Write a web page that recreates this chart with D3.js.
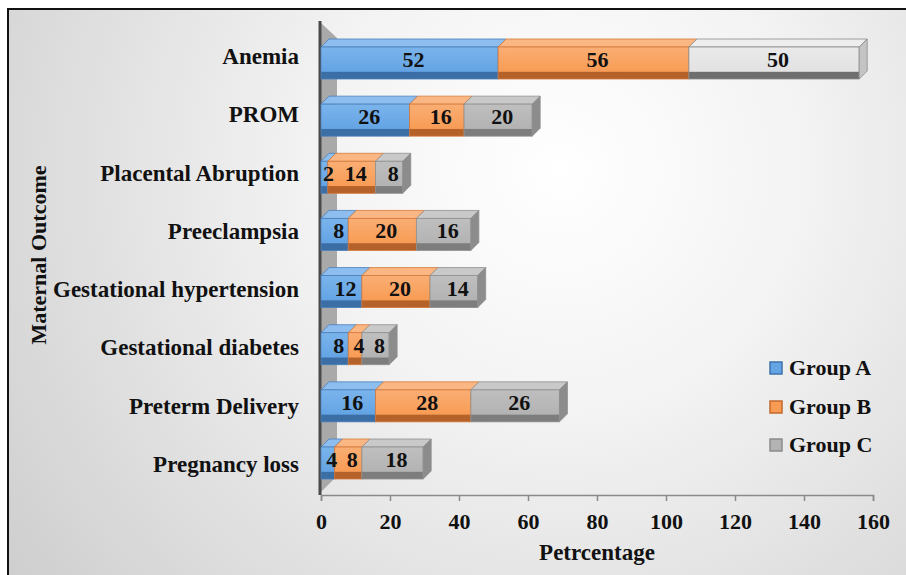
<!DOCTYPE html>
<html>
<head>
<meta charset="utf-8">
<script src="https://cdn.jsdelivr.net/npm/d3@7"></script>
<style>
  html, body { margin: 0; padding: 0; background: #ffffff; }
  svg { display: block; }
  svg text { font-family: "Liberation Serif", "Times New Roman", serif; }
</style>
</head>
<body>
<svg id="chart" width="906" height="575"></svg>
<script>
// Maternal outcome categories, top to bottom
const categories = [
  "Anemia", "PROM", "Placental Abruption", "Preeclampsia",
  "Gestational hypertension", "Gestational diabetes",
  "Preterm Delivery", "Pregnancy loss"
];
const seriesNames = ["Group A", "Group B", "Group C"];
const groupA = [52, 26, 2, 8, 12, 8, 16, 4];
const groupB = [56, 16, 14, 20, 20, 4, 28, 8];
const groupC = [50, 20, 8, 16, 14, 8, 26, 18];
const xTicks = [0, 20, 40, 60, 80, 100, 120, 140, 160];

const svg = d3.select("#chart");
const W = 906, H = 575;

// colour sets: face = front, top = top face, side = right face, dark = lower bevel
const palette = [
  { face: "#64a4e4", light: "#7ab4ec", top: "#8dbeef", side: "#3f73ad", dark: "#3c6ea6", line: "#4a7fba" },
  { face: "#f89c55", light: "#faae74", top: "#fbb783", side: "#c0682c", dark: "#b5612a", line: "#d4783a" },
  { face: "#b3b3b3", light: "#bfbfbf", top: "#c9c9c9", side: "#8c8c8c", dark: "#7d7d7d", line: "#8f8f8f" }
];
// the Anemia bar of Group C is formatted in a lighter grey
const paletteCLight = { face: "#e2e2e2", light: "#eaeaea", top: "#eeeeee", side: "#c4c4c4", dark: "#6e6e6e", line: "#8a8a8a" };

const defs = svg.append("defs");
const bg = defs.append("radialGradient").attr("id", "bg")
  .attr("gradientUnits", "userSpaceOnUse")
  .attr("cx", 560).attr("cy", 170).attr("r", 700);
bg.append("stop").attr("offset", 0).attr("stop-color", "#ffffff");
bg.append("stop").attr("offset", 0.35).attr("stop-color", "#f3f3f3");
bg.append("stop").attr("offset", 1).attr("stop-color", "#cdcdcd");

function faceGradient(id, p) {
  const g = defs.append("linearGradient").attr("id", id)
    .attr("x1", 0).attr("y1", 0).attr("x2", 0).attr("y2", 1);
  g.append("stop").attr("offset", 0).attr("stop-color", p.light);
  g.append("stop").attr("offset", 0.76).attr("stop-color", p.face);
  g.append("stop").attr("offset", 0.79).attr("stop-color", p.dark);
  g.append("stop").attr("offset", 1).attr("stop-color", p.dark);
}
palette.forEach((p, i) => faceGradient("face" + i, p));
faceGradient("faceCLight", paletteCLight);

function label(sel, size) {
  return sel.attr("font-weight", "bold").attr("font-size", size).attr("fill", "#111");
}

// chart area
svg.append("rect").attr("x", 8).attr("y", 9).attr("width", W).attr("height", H)
  .attr("fill", "url(#bg)").attr("stroke", "#111").attr("stroke-width", 2);

// axis scale on the floor edge; bars sit on the slightly recessed front plane
const x = d3.scaleLinear().domain([0, 160]).range([321, 873]);
const xBar = d3.scaleLinear().domain([0, 160]).range([321, 866]);
const yFront = d3.scalePoint().domain(categories).range([47, 447]);
const yLabel = d3.scalePoint().domain(categories).range([57, 465]);
const barH = 32, dx = 8, dy = 8;

// side wall
svg.append("polygon")
  .attr("points", [[321, 23], [337, 38], [337, 476], [321, 492]].join(" "))
  .attr("fill", "#a9a9a9");
svg.append("line").attr("x1", 320).attr("x2", 320).attr("y1", 21).attr("y2", 495)
  .attr("stroke", "#4a4a4a").attr("stroke-width", 3);

// x axis
const axis = svg.append("g").attr("transform", "translate(0,495)")
  .call(d3.axisBottom(x).tickValues(xTicks).tickSize(6).tickPadding(12).tickFormat(d3.format("d")));
axis.attr("font-family", null).attr("font-size", null);
axis.select(".domain").attr("stroke", "#8a8a8a").attr("stroke-width", 1.5);
axis.selectAll(".tick line").attr("stroke", "#8a8a8a").attr("stroke-width", 1.5);
label(axis.selectAll(".tick text"), 22);

// stacked segments
const stackData = categories.map((c, i) => ({ cat: c, A: groupA[i], B: groupB[i], C: groupC[i] }));
const stacked = d3.stack().keys(["A", "B", "C"])(stackData);

const bars = svg.append("g");
const values = svg.append("g");
categories.forEach((cat, ci) => {
  const yt = yFront(cat), yb = yt + barH;
  stacked.forEach((layer, si) => {
    const seg = layer[ci];
    const x0 = xBar(seg[0]), x1 = xBar(seg[1]);
    const isLight = si === 2 && cat === "Anemia";
    const p = isLight ? paletteCLight : palette[si];
    const fid = isLight ? "faceCLight" : "face" + si;
    const g = bars.append("g");
    // top face
    g.append("polygon")
      .attr("points", [[x0, yt], [x0 + dx, yt - dy], [x1 + dx, yt - dy], [x1, yt]].join(" "))
      .attr("fill", p.top).attr("stroke", p.line).attr("stroke-width", 0.8);
    // front face
    g.append("rect").attr("x", x0).attr("y", yt).attr("width", x1 - x0).attr("height", barH)
      .attr("fill", `url(#${fid})`).attr("stroke", p.line).attr("stroke-width", 0.8);
    // right face of the outermost segment
    if (si === stacked.length - 1) {
      g.append("polygon")
        .attr("points", [[x1, yt], [x1 + dx, yt - dy], [x1 + dx, yb - dy], [x1, yb]].join(" "))
        .attr("fill", p.side).attr("stroke", p.line).attr("stroke-width", 0.8);
    }
    // value label, centred in the box
    label(values.append("text"), 22)
      .attr("x", (x0 + x1) / 2 + dx / 2)
      .attr("y", yt + barH / 2 - dy / 2 + 8)
      .attr("text-anchor", "middle")
      .text(seg[1] - seg[0]);
  });
});

// category labels
label(svg.append("g").selectAll("text").data(categories).join("text"), 23)
  .attr("x", 299).attr("y", d => yLabel(d) + 7)
  .attr("text-anchor", "end")
  .text(d => d);

// axis titles
label(svg.append("text"), 23).attr("x", 597).attr("y", 560).attr("text-anchor", "middle")
  .text("Petrcentage");
label(svg.append("text"), 22).attr("transform", "translate(46,255) rotate(-90)")
  .attr("text-anchor", "middle").text("Maternal Outcome");

// legend
const legend = svg.append("g");
const legendY = [368, 407, 445];
seriesNames.forEach((name, i) => {
  legend.append("rect").attr("x", 770).attr("y", legendY[i] - 6).attr("width", 12).attr("height", 12)
    .attr("fill", palette[i].face).attr("stroke", palette[i].side).attr("stroke-width", 1.5);
  label(legend.append("text"), 22).attr("x", 789).attr("y", legendY[i] + 7).text(name);
});
</script>
</body>
</html>
